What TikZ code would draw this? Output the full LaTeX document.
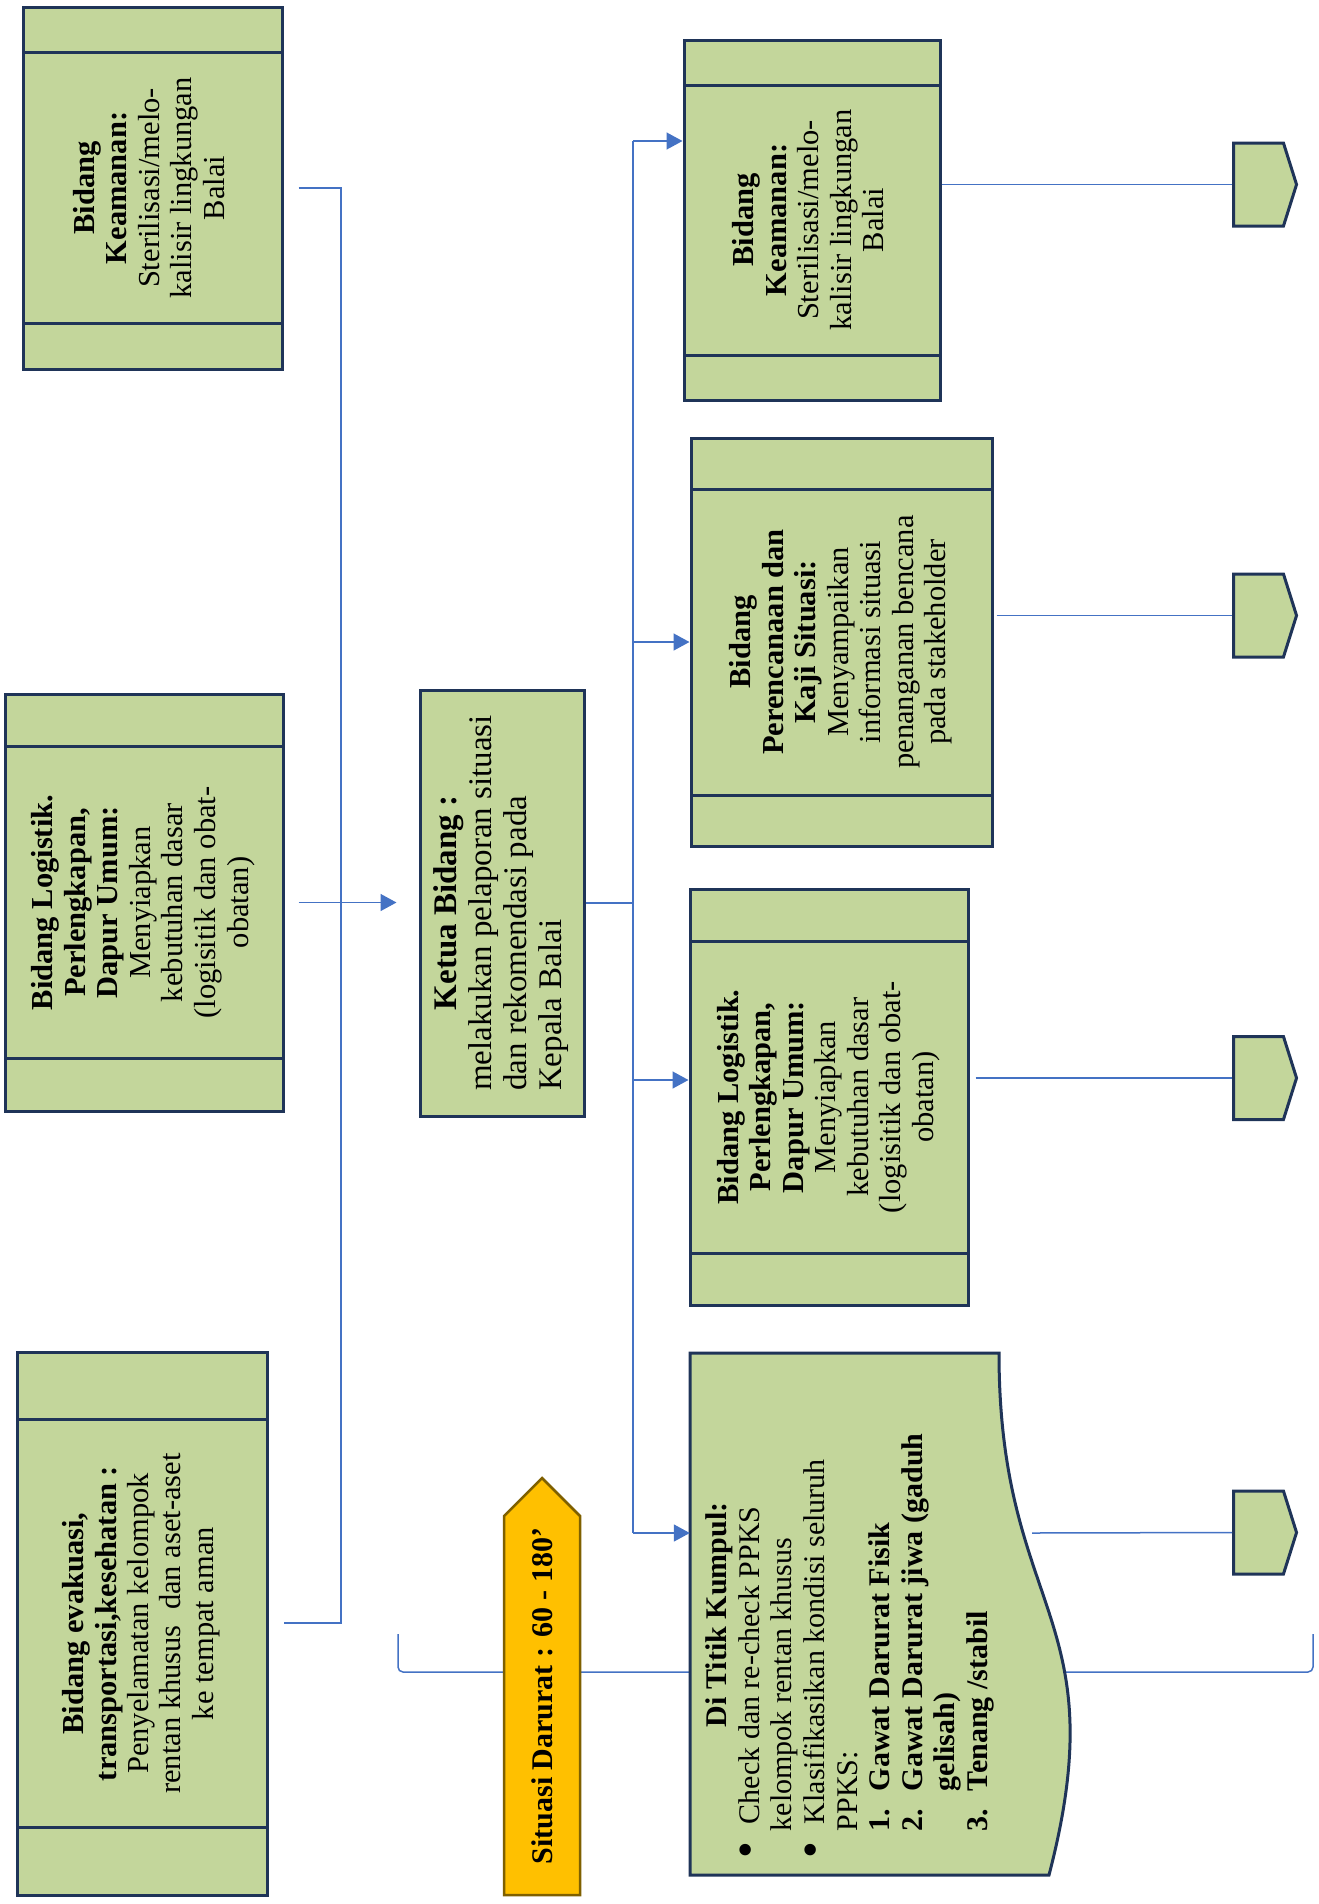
\documentclass[tikz,border=0pt]{standalone}
\usepackage{fontspec}
\setmainfont{Liberation Serif}
\usepackage{tikz}
\usetikzlibrary{calc,shapes.symbols,arrows.meta}

\definecolor{boxgreen}{HTML}{C3D69B}
\definecolor{boxline}{HTML}{1F3458}
\definecolor{linkblue}{HTML}{4472C4}
\definecolor{sitfill}{HTML}{FFC000}
\definecolor{sitline}{HTML}{7F6000}

\newcommand{\vtxt}[1]{\rotatebox{90}{\begin{tabular}{@{}c@{}}#1\end{tabular}}}
\newcommand{\bigdot}{\makebox[34pt][l]{\raisebox{-2pt}{\scalebox{1.6}{\textbullet}}}}

\tikzset{
  plainbox/.style={draw=boxline, fill=boxgreen, line width=3pt, inner sep=0pt,
    font=\fontsize{30.5}{32.5}\selectfont},
  proc/.style={plainbox,
    path picture={
      \draw[boxline, line width=3pt]
        ($(path picture bounding box.north west)!0.125!(path picture bounding box.south west)$) --
        ($(path picture bounding box.north east)!0.125!(path picture bounding box.south east)$)
        ($(path picture bounding box.north west)!0.875!(path picture bounding box.south west)$) --
        ($(path picture bounding box.north east)!0.875!(path picture bounding box.south east)$);
    }},
  link/.style={draw=linkblue, line width=1.5pt},
  arr/.style={link, -{Triangle[length=16pt,width=17pt]}},
  tag/.style={signal, signal to=east, signal pointer angle=145, draw=boxline, fill=boxgreen,
    line width=3pt, minimum width=63, minimum height=83, inner sep=0pt}
}

\begin{document}
\begin{tikzpicture}[x=1pt,y=-1pt]
\useasboundingbox (0,0) rectangle (1319,1904);

\draw[link, rounded corners=5] (398,1634) -- (398,1672) -- (1313,1672) -- (1313,1634);

\node[proc, minimum width=259, minimum height=362] (kamL) at (152.5,188)
  {\vtxt{\textbf{Bidang}\\ \textbf{Keamanan:}\\ Sterilisasi/melo-\\ kalisir lingkungan\\ Balai}};
\node[proc, minimum width=278, minimum height=417] (logL) at (144,902.5)
  {\vtxt{\textbf{Bidang Logistik.}\\ \textbf{Perlengkapan,}\\ \textbf{Dapur Umum:}\\ Menyiapkan\\ kebutuhan dasar\\ (logisitik dan obat-\\ obatan)}};
\node[proc, minimum width=250, minimum height=543] (evak) at (142,1623.5)
  {\vtxt{\textbf{Bidang evakuasi,}\\ \textbf{transportasi,kesehatan :}\\ Penyelamatan kelompok\\ rentan khusus\ \ dan aset-aset\\ ke tempat aman}};

\node[plainbox, font=\fontsize{33}{35}\selectfont, minimum width=164, minimum height=426] (ketua) at (502,903)
  {\rotatebox{90}{\begin{tabular}{@{}l@{}}\multicolumn{1}{@{}c@{}}{\textbf{Ketua Bidang :}}\\ melakukan pelaporan situasi\\ dan rekomendasi pada\\ Kepala Balai\end{tabular}}};

\node[proc, minimum width=256, minimum height=360] (kamR) at (812,220)
  {\vtxt{\textbf{Bidang}\\ \textbf{Keamanan:}\\ Sterilisasi/melo-\\ kalisir lingkungan\\ Balai}};
\node[proc, minimum width=301, minimum height=408] (renc) at (841.5,642)
  {\vtxt{\textbf{Bidang}\\ \textbf{Perencanaan dan}\\ \textbf{Kaji Situasi:}\\ Menyampaikan\\ informasi situasi\\ penanganan bencana\\ pada stakeholder}};
\node[proc, minimum width=278, minimum height=416] (logR) at (829,1097)
  {\vtxt{\textbf{Bidang Logistik.}\\ \textbf{Perlengkapan,}\\ \textbf{Dapur Umum:}\\ Menyiapkan\\ kebutuhan dasar\\ (logisitik dan obat-\\ obatan)}};

\draw[draw=boxline, fill=boxgreen, line width=3pt] (690,1353) -- (999,1353)
  .. controls (999,1614) and (1117,1614) .. (1049,1875) -- (690,1875) -- cycle;
\node[font=\fontsize{30}{32.6}\selectfont, inner sep=0pt, minimum width=320] (titik) at (850,1643)
  {\rotatebox{90}{\parbox{430pt}{%
    \hspace*{131pt}\textbf{Di Titik Kumpul:}\\
    \bigdot Check dan re-check PPKS\\
    \hspace*{27pt}kelompok rentan khusus\\
    \bigdot Klasifikasikan kondisi seluruh\\
    \hspace*{27pt}PPKS:\\
    \bfseries\hspace*{27pt}\makebox[40pt][l]{1.}Gawat Darurat Fisik\\
    \hspace*{27pt}\makebox[40pt][l]{2.}Gawat Darurat jiwa (gaduh\\
    \hspace*{67pt}gelisah)\\
    \hspace*{27pt}\makebox[40pt][l]{3.}Tenang /stabil}}};

\draw[draw=sitline, fill=sitfill, line width=2.5pt] (504,1895) -- (504,1516) -- (542,1478)
  -- (580,1516) -- (580,1895) -- cycle;
\node[font=\bfseries\fontsize{30}{32}\selectfont] (sit) at (542,1696)
  {\rotatebox{90}{Situasi Darurat : 60 - 180’}};

\foreach \n/\y in {tagA/184.5, tagB/615.5, tagC/1078, tagD/1532.5}
  \node[tag] (\n) at (1258.5,\y) {};

\coordinate (lT) at (341,188);
\coordinate (lB) at (341,1623);
\draw[link, shorten <=15, shorten >=15] (kamL.east |- lT) -- (lT) -- (lB) -- (evak.east |- lB);
\draw[arr, shorten <=14, shorten >=22] (logL.east) -- (ketua.west |- logL.east);

\coordinate (bK) at (633,141);
\coordinate (bR) at (633,642);
\coordinate (bL) at (633,1080);
\coordinate (bD) at (633,1533);
\draw[link] (ketua.east) -- (ketua.east -| bK);
\draw[link] (bK) -- (bD);
\foreach \c/\n in {bK/kamR, bR/renc, bL/logR, bD/titik}
  \draw[arr] (\c) -- (\n.west |- \c);

\foreach \b/\t/\g in {kamR/tagA/0, renc/tagB/3, logR/tagC/6}
  \draw[link, shorten <=\g] (\t.west -| \b.east) -- (\t.west);
\coordinate (titikR) at (1032,1533);
\draw[link] (titikR) -- (tagD.west);

\end{tikzpicture}
\end{document}
